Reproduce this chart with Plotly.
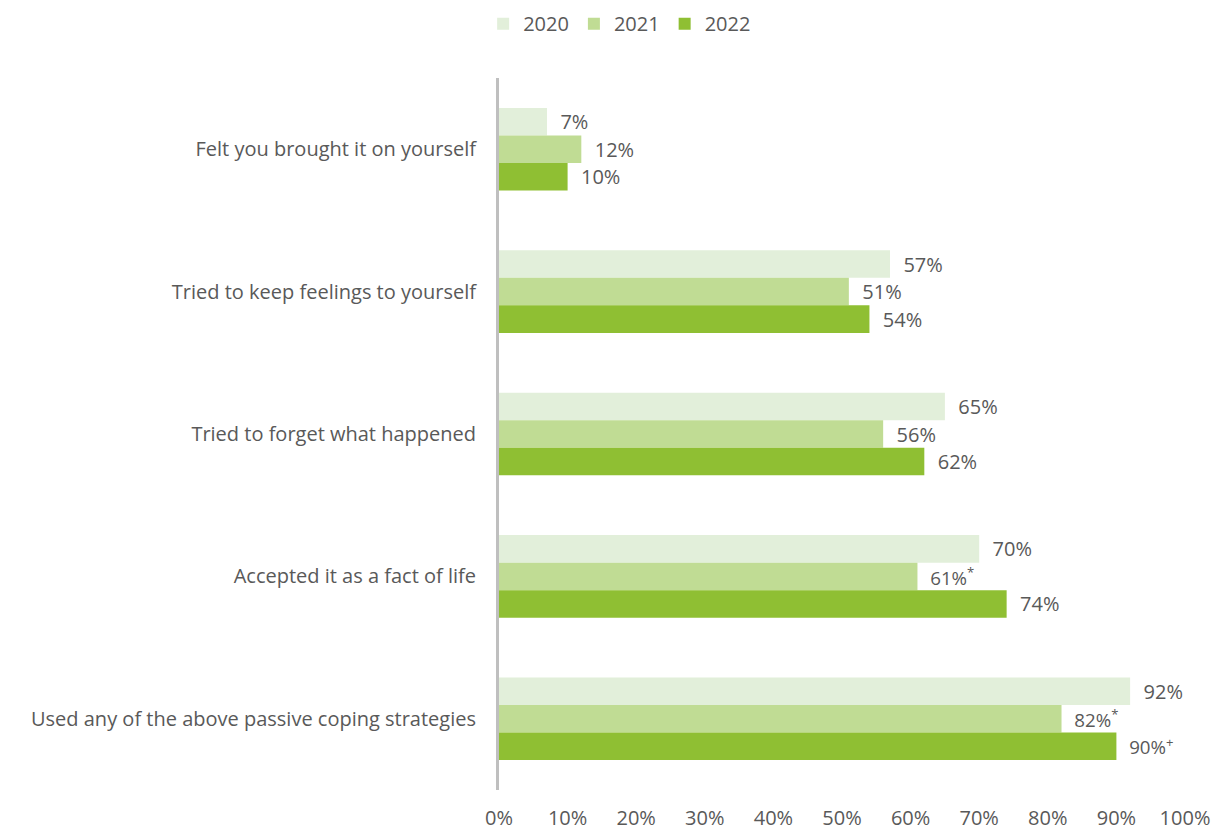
import plotly.graph_objects as go

categories = [
    "Felt you brought it on yourself",
    "Tried to keep feelings to yourself",
    "Tried to forget what happened",
    "Accepted it as a fact of life",
    "Used any of the above passive coping strategies",
]
years = ["2020", "2021", "2022"]
values_2020 = [7, 57, 65, 70, 92]
values_2021 = [12, 51, 56, 61, 82]
values_2022 = [10, 54, 62, 74, 90]
labels_2020 = ["7%", "57%", "65%", "70%", "92%"]
labels_2021 = ["12%", "51%", "56%", "61%<sup>*</sup>", "82%<sup>*</sup>"]
labels_2022 = ["10%", "54%", "62%", "74%", "90%<sup>+</sup>"]
tick_vals = [0, 10, 20, 30, 40, 50, 60, 70, 80, 90, 100]
tick_text = ["0%", "10%", "20%", "30%", "40%", "50%", "60%", "70%", "80%", "90%", "100%"]

colors = ["#E2EFDA", "#C0DC94", "#8FBF33"]
FONT = "Open Sans"
TXT = "#595959"
FS = 20

fig = go.Figure()
for name, vals, labs, col in zip(years, [values_2020, values_2021, values_2022],
                                 [labels_2020, labels_2021, labels_2022], colors):
    fig.add_trace(go.Bar(
        y=categories, x=vals, name=name, orientation="h",
        marker=dict(color=col, line=dict(width=0)),
        text=labs, texttemplate="\u00a0\u00a0%{text}",
        textposition="outside", cliponaxis=False,
        textfont=dict(family=FONT, size=FS, color=TXT),
    ))

fig.update_layout(
    width=1215, height=834,
    margin=dict(l=499, r=30, t=78, b=44, autoexpand=False),
    barmode="group", bargap=0.42, bargroupgap=0,
    plot_bgcolor="white", paper_bgcolor="white",
    font=dict(family=FONT, size=FS, color=TXT),
    legend=dict(orientation="h", x=0.51, xanchor="center", xref="container",
                y=0.995, yanchor="top", yref="container",
                font=dict(family=FONT, size=FS, color=TXT),
                itemwidth=30, traceorder="normal"),
    showlegend=True,
)
fig.update_xaxes(range=[0, 100], tickvals=tick_vals, ticktext=tick_text,
                 showgrid=False, zeroline=False, showline=False,
                 ticks="", ticklabelstandoff=14, automargin=False,
                 tickfont=dict(family=FONT, size=FS, color=TXT))
fig.update_yaxes(autorange="reversed", showgrid=False, showline=True,
                 linecolor="#BFBFBF", linewidth=3, ticks="",
                 ticklabelstandoff=16, automargin=False,
                 tickfont=dict(family=FONT, size=FS, color=TXT))

fig.write_html("out.html")
